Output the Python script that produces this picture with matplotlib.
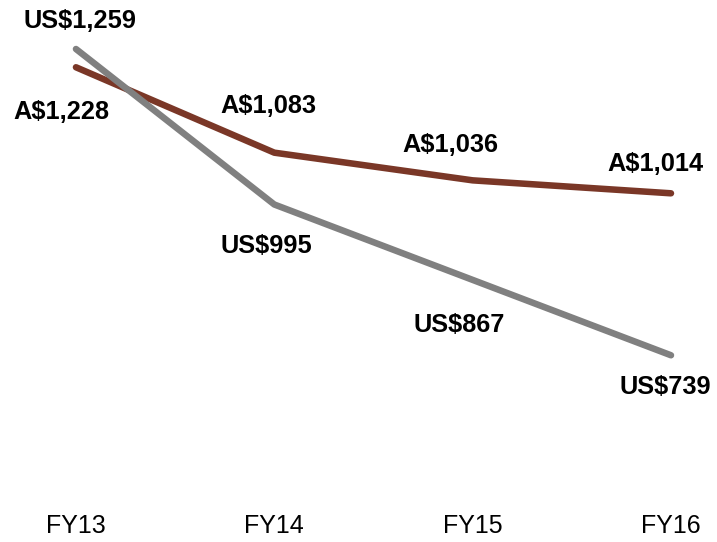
import matplotlib
matplotlib.use("Agg")
import matplotlib.pyplot as plt

categories = ["FY13", "FY14", "FY15", "FY16"]
aud_values = [1228, 1083, 1036, 1014]
usd_values = [1259, 995, 867, 739]
aud_labels = ["A$1,228", "A$1,083", "A$1,036", "A$1,014"]
usd_labels = ["US$1,259", "US$995", "US$867", "US$739"]

# label offsets in pixels (dx, dy) relative to each point
aud_offsets = [(-15, -45), (-6, 47), (-22, 35), (-16, 29)]
usd_offsets = [(4, 28), (-8, -42), (-13, -45), (-6, -32)]

plt.rcParams['font.family'] = ['Liberation Sans', 'DejaVu Sans']

fig = plt.figure(figsize=(7.17, 5.42), dpi=100)
ax = fig.add_axes([0, 0.1, 1, 0.9])

x = list(range(len(categories)))
brown = "#7A3727"
gray = "#808080"
ax.plot(x, aud_values, color=brown, lw=4.7, solid_capstyle='round', solid_joinstyle='round')
ax.plot(x, usd_values, color=gray, lw=4.7, solid_capstyle='round', solid_joinstyle='round')

for xi, v, lab, off in zip(x, aud_values, aud_labels, aud_offsets):
    ax.annotate(lab, (xi, v), xytext=off, textcoords='offset pixels',
                ha='center', va='center', fontsize=18.3, fontweight='bold', color='black')
for xi, v, lab, off in zip(x, usd_values, usd_labels, usd_offsets):
    ax.annotate(lab, (xi, v), xytext=off, textcoords='offset pixels',
                ha='center', va='center', fontsize=18.3, fontweight='bold', color='black')

ax.set_xlim(-0.383, 3.232)
ax.set_ylim(514, 1342.2)
ax.set_xticks(x)
ax.set_xticklabels(categories, fontsize=18)
ax.set_yticks([])
ax.tick_params(axis='x', length=0, pad=19)
for s in ax.spines.values():
    s.set_visible(False)

fig.savefig("out.png", dpi=100)
